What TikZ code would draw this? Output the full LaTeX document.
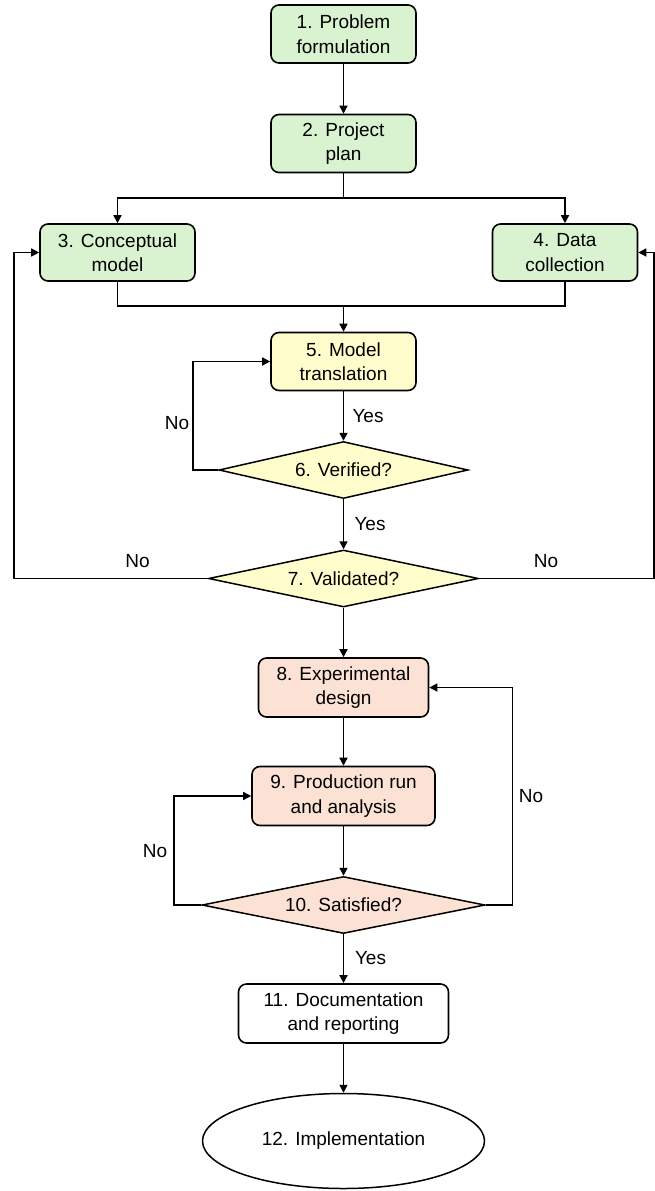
\documentclass[tikz,border=0pt]{standalone}
\usepackage{fontspec}
\setmainfont{Liberation Sans}
\usetikzlibrary{shapes.geometric,arrows.meta}
\definecolor{gfill}{HTML}{D9F2D0}
\definecolor{yfill}{HTML}{FFFDCB}
\definecolor{pfill}{HTML}{FBE2D5}
\begin{document}
\begin{tikzpicture}[x=1pt,y=-1pt,
  font=\fontsize{19}{24.5}\selectfont,
  box/.style={draw=black, line width=1.6pt, rounded corners=8pt, align=center, inner sep=0pt},
  dia/.style={draw=black, line width=1.5pt, diamond, inner sep=0pt, minimum height=57pt},
  arr/.style={line width=1.5pt, -{Triangle[length=8pt,width=8pt]}},
  ln/.style={line width=1.5pt},
  lab/.style={inner sep=0pt}
]
\useasboundingbox (0,0) rectangle (655,1191);
% nodes
\node[box, fill=gfill, minimum width=145pt, minimum height=58pt] (b1) at (343.5,34) {1. Problem\\formulation};
\node[box, fill=gfill, minimum width=145pt, minimum height=58pt] (b2) at (343.5,143.5) {2. Project\\plan};
\node[box, fill=gfill, minimum width=155pt, minimum height=57pt] (b3) at (117.5,252.5) {3. Conceptual\\model};
\node[box, fill=gfill, minimum width=145pt, minimum height=57pt] (b4) at (565,252.5) {4. Data\\collection};
\node[box, fill=yfill, minimum width=145pt, minimum height=58pt] (b5) at (343.5,361.5) {5. Model\\translation};
\node[dia, fill=yfill, aspect=4.37, minimum width=249pt] (d6) at (343.5,470) {6. Verified?};
\node[dia, fill=yfill, aspect=4.74, minimum width=270pt] (d7) at (343.5,578.5) {7. Validated?};
\node[box, fill=pfill, minimum width=170pt, minimum height=59pt] (b8) at (343.5,687.5) {8. Experimental\\design};
\node[box, fill=pfill, minimum width=183pt, minimum height=59pt] (b9) at (343.5,796) {9. Production run\\and analysis};
\node[dia, fill=pfill, aspect=4.96, minimum width=283pt] (d10) at (343.5,905) {10. Satisfied?};
\node[box, fill=white, minimum width=210pt, minimum height=59pt] (b11) at (343.5,1013.5) {11. Documentation\\and reporting};
\node[draw=black, line width=1.5pt, ellipse, minimum width=282pt, minimum height=95pt, inner sep=0pt] (b12) at (343.5,1141) {12. Implementation};
% coordinates
\coordinate (split) at (343.5,198);
\coordinate (merge) at (343.5,306);
\coordinate (l6) at (193,470);
\coordinate (l7) at (14,578.5);
\coordinate (r7) at (654,578.5);
\coordinate (l10) at (174,905);
\coordinate (r10) at (512.5,905);
% connectors
\draw[arr] (b1) -- (b2);
\draw[ln] (b2.south) -- (split);
\draw[arr] (split) -| (b3.north);
\draw[arr] (split) -| (b4.north);
\draw[ln] (b4.south) |- (merge);
\draw[arr] (b3.south) |- (merge) -- (b5.north);
\draw[arr] (b5) -- (d6);
\draw[arr] (d6.west) -- (l6) |- (b5.west);
\draw[arr] (d6) -- (d7);
\draw[arr] (d7.west) -- (l7) |- (b3.west);
\draw[arr] (d7.east) -- (r7) |- (b4.east);
\draw[arr] (d7) -- (b8);
\draw[arr] (b8) -- (b9);
\draw[arr] (b9) -- (d10);
\draw[arr] (d10.west) -- (l10) |- (b9.west);
\draw[arr] (d10.east) -- (r10) |- (b8.east);
\draw[arr] (d10) -- (b11);
\draw[arr] (b11) -- (b12);
% labels
\node[lab] (y1) at (368,416) {Yes};
\node[lab] (n1) at (177,423) {No};
\node[lab] (y2) at (370,524) {Yes};
\node[lab] (n2) at (137.5,561) {No};
\node[lab] (n3) at (546,561) {No};
\node[lab] (n4) at (155,851) {No};
\node[lab] (n5) at (531,796) {No};
\node[lab] (y3) at (370.5,958) {Yes};
\end{tikzpicture}
\end{document}
